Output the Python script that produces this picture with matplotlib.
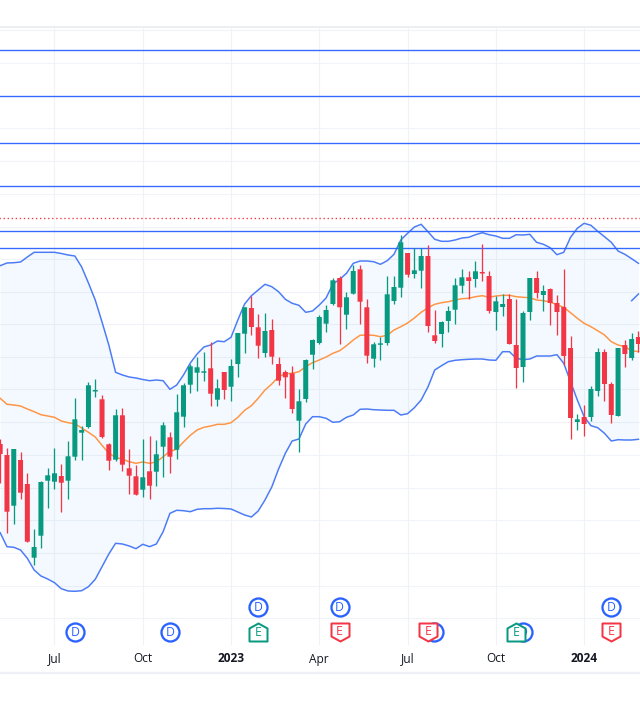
import matplotlib
matplotlib.use("Agg")
import matplotlib.pyplot as plt
from matplotlib.path import Path

plt.rcParams['font.family'] = ['Open Sans', 'DejaVu Sans']

opens = [444,455,505.7,460,484,557.7,535.7,480.7,481.7,476,480.7,456.7,432.7,427,391,399.3,
         444.3,459.7,415.3,468.3,476.3,489.7,471.3,471.7,446.7,437.3,449.7,416.7,384.7,372.7,372.7,368.3,
         399.7,372,386.7,364,333.7,308,327.3,353,330,364,372,373.3,420.7,399,354.7,343,
         323.7,304,278,314.7,293.7,269.3,307.3,358.7,344.7,343,301,287.7,253,274,270.7,256,
         335.3,334,321,309.7,285.7,277.3,279,272,276,312,307,299,345,367,312,278,
         295,289,303,307,348,422,417,417,391,352,384,416,345,358,337]
closes = [454,511.7,449,492.7,541.7,547,482,475.3,473.3,482.7,456.3,419.3,430,385.3,390,437,
          460.7,415.3,464.7,475.7,494.7,477.3,485.7,454.3,425.3,456.7,412.3,385.3,366.3,367.3,371.3,393.7,
          388.3,390,366,333,307.3,327,345.7,331,356.7,380.7,377.3,409,401.3,360,340,317,
          310,280.3,307.3,297.3,271,301.7,355.7,344.3,343.3,294.3,287,242.3,274.7,270.3,256,326,
          341,322,311,285.3,277.3,281,271.3,273,311,301.3,304,344,368,313,278,293,
          291,303,312,356,418,419.3,424,389,352,384,415,348,354,339,344]
highs = [439,448.3,449,452.3,473.3,529.3,481.3,468.3,448,464,441.3,398.3,426,382.3,379.3,395.3,
         443.3,409.3,408.3,449.3,465.3,439,436.3,440,422.3,432.3,394.3,382.7,364,357.3,352.3,342.3,
         379,375.3,359.3,332.7,307.3,295.7,314,313,319.3,357,370,366,389.3,359.3,338.7,315.3,
         305,278.3,276.3,292,265.3,265.3,299.3,342.3,337.3,276,276,235,253,248.3,248.3,245.3,
         310.3,321.3,306.3,278.3,269.3,271.3,261,244,271.3,296,294.3,294,299,311.3,278,271,
         285,288.3,295.3,269,336.3,414.3,405,386.3,348.3,349.3,382,348,340.3,333,331.3]
lows = [483,532.7,523.7,498.7,541.7,565,547.7,507.7,488.7,511.7,498.7,459.7,459.7,427.7,396.7,437.7,
        469.7,460.7,470.7,494,494.7,496.7,498.7,485.7,476.7,472.7,458.7,426.7,392.7,390.7,380.7,405.7,
        406,399,401,376.7,353,335,358,357.3,364,385,397.7,413.3,451.7,401.7,369,344,
        332,305,344,329,293.7,323.7,362.7,366.7,359.7,344.7,303.7,296.7,277,278,287.7,332,
        342.7,346.7,331.7,324,292.7,298.7,287,280.7,312.7,330,316,344,388,382,320,298.3,
        311.3,325,335,365,439,430,436,421,396,401,423,416,367,360,351.7]

upper_band = [265.7,263,262.7,262,257,252.3,252.3,252.3,252.3,253.5,255,256,267,283,300,322,
              345,372.3,375,377,378,379.5,380.7,380,380.7,389.3,385,375,363,354,347,345,
              341,341.7,337.3,320,304,295.7,290,284.3,286.7,291.7,299.3,303.3,305.3,312.3,311,305,
              298,284,279.3,273.3,263.3,261,261,261.7,264.3,260.7,254.3,240,233.3,227,224.3,231.7,
              239.3,241.3,241.3,240,238,237.3,234.7,232.7,234.7,236,238.3,238.3,234.7,235,234.3,242.3,
              244.3,247.7,254.7,252.3,237.3,228.3,223.3,225.3,231.3,236.7,242.3,251,254.3,258.7,263.3]
basis = [398.3,404.3,405,406,409,411.7,414.7,416,417.3,421,422.7,423.7,428,432.3,437,445.3,
         453.3,457.3,459.3,461.7,463.3,462,463.3,462,456.7,451.3,449.3,442,435.3,430,427.3,426,
         424.3,424.3,422.7,417.3,410.3,405.7,398.3,390,384,376.7,373.7,373.3,371.7,366.7,362.7,360,
         357,353.3,350.7,345.7,340,335.3,335,335.3,336.7,335.3,330,326.7,323,318,312.3,307.7,
         304.3,302.7,301.7,300,298.7,298.3,296.7,295.7,297.3,296,295.3,295.3,296.7,297.3,297.7,300,
         300.7,302,304.7,307.3,312.7,318.3,323.3,326.7,330.7,335,341.7,345,346.7,350.7,351.7]
lower_band = [532.7,546.7,547.3,550,558.3,570,576,579,582.7,588.7,591,591.3,590.7,586.7,579.3,566.7,
              554,543.3,544,546,548.7,544.3,546.7,544,531.7,513.3,510.3,510.7,511.7,509.3,508.7,508.7,
              508.3,508.5,509,512,515,517,511,500,487,469,453.3,441,439,424,416.7,416.7,
              418.3,422.3,421.7,417.3,415,409.3,409,409.7,410,410.3,410.3,415,413.7,407.7,400,387,
              370,365.7,361.7,360.3,359.7,359.3,359,359,360,360.3,351.7,351.7,358.3,359.7,359,356,
              356,356,354.7,363.3,381.7,400,416.7,425.7,427.7,433.3,441,439.7,440,440,439.3]
extra_line_idx = [93, 94]
extra_line = [300.7, 294]

levels = [50.3, 96.3, 143.3, 186.3, 231.3, 248.3]
dotted_level = 218.3
h_grid = [30,63,96,128,161,194,227,259,292,324,357,389,422,455,488,520,553,586,618]

tick_idx = [8, 21, 34, 47, 60, 73, 86]
tick_labels = ['Jul', 'Oct', '2023', 'Apr', 'Jul', 'Oct', '2024']
tick_bold = [False, False, True, False, False, False, True]

div_idx = [11, 25, 38, 50, 63.9, 77, 90]
div_row = [632, 632, 607, 607, 632, 632, 607]
earn_idx = [38, 50, 63, 76, 90]
earn_up = [True, False, False, True, False]

GREEN, RED, BLUE = '#089981', '#F23645', '#2962FF'
BAND = '#4C7BF7'
ORANGE = '#FF9544'
GRID = '#F0F3F8'
PX = 0.72  # points per pixel at 100 dpi

fig = plt.figure(figsize=(6.4, 7.08), dpi=100, facecolor='white')
ax = fig.add_axes([0, 0, 1, 1])
ax.set_xlim(-0.026, 94.23)
ax.set_ylim(708, 0)
ax.axis('off')

idx = list(range(len(opens)))

# frame and grid
ax.hlines(h_grid, -1, 95, color=GRID, lw=1.1 * PX, zorder=1)
ax.vlines(tick_idx, 27, 645, color='#F0F2F6', lw=1.1 * PX, zorder=1)
ax.hlines([26.7], -1, 95, color='#ECEEF2', lw=2 * PX, zorder=1)
ax.hlines([672.5], -1, 95, color='#EEF0F6', lw=2.4 * PX, zorder=1)

# Bollinger band
ax.fill_between(idx, upper_band, lower_band, color='#2196F3', alpha=0.05, lw=0, zorder=2)
ax.plot(idx, upper_band, color=BAND, lw=1.5 * PX, zorder=3)
ax.plot(idx, lower_band, color=BAND, lw=1.5 * PX, zorder=3)
ax.plot(extra_line_idx, extra_line, color=BAND, lw=1.5 * PX, zorder=3)
ax.plot(idx, basis, color=ORANGE, lw=1.5 * PX, zorder=3)

# price levels
ax.hlines(levels, -1, 95, color=BLUE, lw=1.35 * PX, alpha=0.95, zorder=4)
ax.hlines([dotted_level], -1, 95, color=RED, lw=1.35 * PX, linestyles=(0, (1, 2)), zorder=4)

# candles
colors = [GREEN if c < o else RED for o, c in zip(opens, closes)]
ax.vlines(idx, highs, lows, colors=colors, lw=1.3 * PX, zorder=5)
bottoms = [min(o, c) for o, c in zip(opens, closes)]
heights = [max(abs(o - c), 1.5) for o, c in zip(opens, closes)]
bars = ax.bar(idx, heights, bottom=bottoms, width=5.0 / 6.79, color=colors, lw=0, zorder=6)
for b in bars:
    b.set_snap(False)

# x labels
for t, label, bold in zip(tick_idx, tick_labels, tick_bold):
    ax.text(t, 659, label, ha='center', va='center', fontsize=8.6, color='#131722',
            fontweight='bold' if bold else 'normal', zorder=8)

# dividends
ax.scatter(div_idx, div_row, s=(18 * PX) ** 2, facecolor='white', edgecolor=BLUE,
           lw=2.3 * PX, zorder=7)
for x, y in zip(div_idx, div_row):
    ax.text(x, y + 0.3, 'D', ha='center', va='center', fontsize=8.8, color=BLUE,
            fontweight='medium', zorder=7.1)

# earnings
house = Path([(-1, -1), (-1, 0.45), (0, 1), (1, 0.45), (1, -1), (-1, -1)],
             [Path.MOVETO, Path.LINETO, Path.LINETO, Path.LINETO, Path.LINETO, Path.CLOSEPOLY])
flag = Path([(-1, 1), (-1, -0.45), (0, -1), (1, -0.45), (1, 1), (-1, 1)],
            [Path.MOVETO, Path.LINETO, Path.LINETO, Path.LINETO, Path.LINETO, Path.CLOSEPOLY])
for x, up in zip(earn_idx, earn_up):
    col = GREEN if up else RED
    ax.scatter([x], [632], marker=house if up else flag, s=(18 * PX) ** 2, facecolor='white',
               edgecolor=col, lw=2 * PX, zorder=7.5)
    ax.text(x, 633 if up else 631.5, 'E', ha='center', va='center', fontsize=8.8,
            color=col, fontweight='medium', zorder=7.6)

fig.savefig('out.png', dpi=100, facecolor='white')
